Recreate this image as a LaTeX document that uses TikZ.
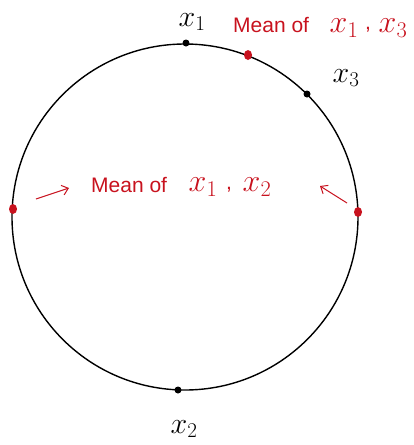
\RequirePackage{fix-cm}
\documentclass[tikz,border=0pt]{standalone}
\usepackage{fontspec}
\setmainfont{Liberation Sans}
\usetikzlibrary{arrows.meta,shapes.geometric}
\definecolor{pen}{RGB}{200,18,30}
\tikzset{
  blackdot/.style={circle,fill=black,inner sep=0pt,minimum size=7pt},
  reddot/.style={ellipse,fill=pen,inner sep=0pt,minimum width=8pt,minimum height=10pt},
  xlab/.style={inner sep=0pt,font=\fontsize{30}{32}\selectfont},
  rtext/.style={inner sep=0pt,text=pen,font=\fontsize{21}{24}\selectfont},
  rx/.style={inner sep=0pt,text=pen,font=\fontsize{32}{34}\selectfont},
  rarrow/.style={pen,line width=1pt,-{Straight Barb[length=6pt,width=10pt]}}
}
\begin{document}
\begin{tikzpicture}[x=1pt,y=-1pt]
\useasboundingbox (0,0) rectangle (413,445);
\draw[line width=1.4pt] (185,217) circle (173);
% points
\node[blackdot] (p1) at (186,43) {};
\node[blackdot] (p3) at (307,94) {};
\node[blackdot] (p2) at (178,390) {};
\node[reddot] (m13) at (248,55) {};
\node[reddot] (ml) at (13,209) {};
\node[reddot] (mr) at (358,212) {};
% black labels
\node[xlab] (l1) at (192,22) {$x_1$};
\node[xlab] (l3) at (346,78) {$x_3$};
\node[xlab] (l2) at (184,429) {$x_2$};
% red top label
\node[rtext,anchor=west] (t13) at (233,25) {Mean of};
\node[rx] (t13a) at (344,28) {$x_1$};
\node[rtext] (t13c) at (368,30) {,};
\node[rx] (t13b) at (393,28) {$x_3$};
% red middle label
\node[rtext,anchor=west] (t12) at (91,185) {Mean of};
\node[rx] (t12a) at (203,187) {$x_1$};
\node[rtext] (t12c) at (229,190) {,};
\node[rx] (t12b) at (257,187) {$x_2$};
% arrows
\coordinate (al0) at (36,199);
\coordinate (al1) at (69,188);
\coordinate (ar0) at (347,203);
\coordinate (ar1) at (320,186);
\draw[rarrow] (al0) -- (al1);
\draw[rarrow] (ar0) -- (ar1);
\end{tikzpicture}
\end{document}
